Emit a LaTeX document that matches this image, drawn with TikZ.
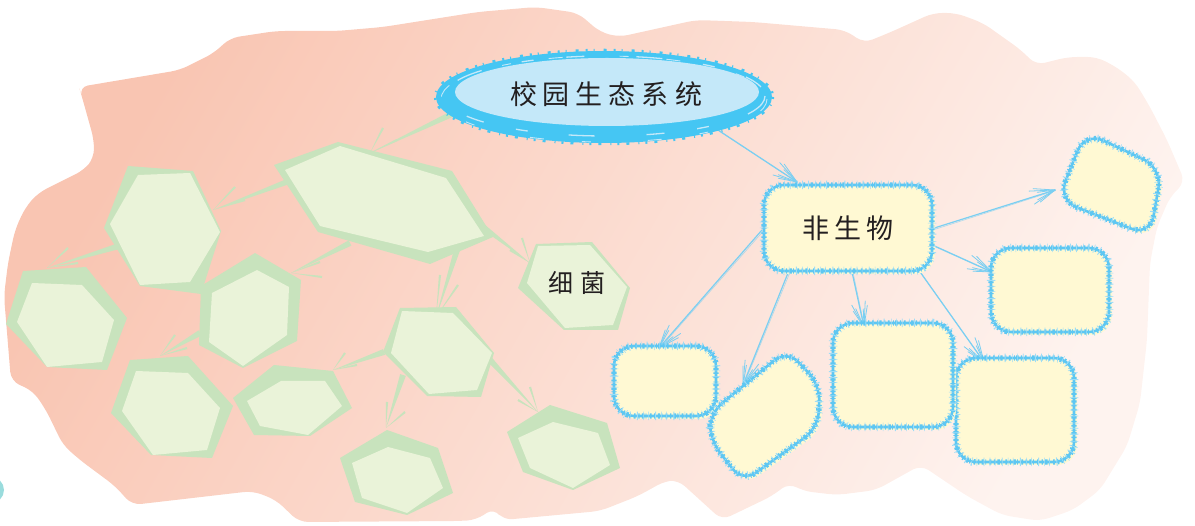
\documentclass[tikz,border=0pt]{standalone}
\usepackage{fontspec}
\newfontfamily\cjk{Noto Sans CJK SC}
\usetikzlibrary{calc}
\definecolor{blobA}{HTML}{F9C5B2}
\definecolor{blobB}{HTML}{FEF3EF}
\definecolor{hexout}{HTML}{C8E3BD}
\definecolor{hexin}{HTML}{EAF3D9}
\definecolor{ellline}{HTML}{45C6F3}
\definecolor{ellfill}{HTML}{C4E8F9}
\definecolor{boxfill}{HTML}{FFF9D3}
\definecolor{boxline}{HTML}{5EC7F2}
\definecolor{chalk}{HTML}{7ACFF2}
\definecolor{ink}{HTML}{231F20}
\definecolor{tealc}{HTML}{9ADCDD}
\tikzset{
  hexo/.style={fill=hexout},
  hexi/.style={fill=hexin},
  boxbg/.style={fill=boxfill, rounded corners=20pt},
  fuzzy/.style={draw=boxline, line width=2.6pt, rounded corners=20pt,
    postaction={draw=boxline, line width=5.4pt, dash pattern=on 1.4pt off 2.2pt on 2.4pt off 1.4pt on 0.8pt off 3.3pt on 1.8pt off 2.6pt},
    postaction={draw=boxline!60, line width=8.5pt, dash pattern=on 0.6pt off 4.5pt on 0.5pt off 6.5pt on 0.9pt off 5.2pt}},
  chalkline/.style={draw=chalk, line width=1.2pt, line cap=round},
  chalkbarb/.style={draw=chalk, line width=0.8pt, line cap=round},
  lbl/.style={font=\cjk\fontsize{27}{27}\selectfont, text=ink, inner sep=0pt},
  lblsmall/.style={font=\cjk\fontsize{25}{25}\selectfont, text=ink, inner sep=0pt}
}
\newcommand\garrow[4]{%
  \fill[hexo] ($(#1)!3pt!90:(#2)$) -- (#2) -- ($(#1)!3pt!-90:(#2)$) -- cycle;
  \fill[hexo] ($(#3)!1.1pt!90:(#2)$) -- (#2) -- ($(#3)!1.1pt!-90:(#2)$) -- cycle;
  \fill[hexo] ($(#4)!1.1pt!90:(#2)$) -- (#2) -- ($(#4)!1.1pt!-90:(#2)$) -- cycle;
}
\newcommand\chalkarrow[2]{%
  \draw[chalkline] (#1) -- (#2);
  \draw[chalkline, line width=0.6pt, opacity=0.6] ($(#1)+(1.2,1.2)$) -- ($(#2)+(0.6,0.6)$);
  \foreach \a/\l in {-21/22pt,-15/26pt,-10/18pt,12/20pt,17/25pt,22/19pt}
    \draw[chalkbarb] (#2) -- ($(#2)!\l!\a:(#1)$);
}
\newcommand\ybox[5]{%
  \fill[boxbg] (#2-#4/2+3, #3-#5/2+3) rectangle (#2+#4/2+3, #3+#5/2+3);
  \node[fuzzy, fill=boxfill, minimum width=#4pt, minimum height=#5pt, inner sep=0pt] (#1) at (#2,#3) {};
}
\begin{document}
\begin{tikzpicture}[x=1pt,y=-1pt]
\useasboundingbox (0,0) rectangle (1195,526);
% background blob
\shade[top color=blobA, bottom color=blobB, shading angle=60, rounded corners=9pt]
 (79,87) -- (180,70) -- (214,53) -- (230,38) -- (276,31) -- (337,31) -- (383,27) -- (478,12) -- (536,7) -- (578,13) -- (600,32) -- (619,37) -- (696,20) -- (753,22) -- (845,30) -- (864,43) -- (891,32) -- (933,13) -- (956,13) -- (983,23) -- (1021,50) -- (1036,65) -- (1068,57) -- (1097,57) -- (1118,68) -- (1135,82) -- (1150,107) -- (1167,140) -- (1185,182) -- (1170,197) -- (1157,227) -- (1150,263) -- (1147,340) -- (1140,403) -- (1127,446) -- (1100,490) -- (1073,510) -- (1040,521) -- (1002,515) -- (967,496) -- (921,465) -- (876,490) -- (837,495) -- (803,491) -- (789,483) -- (772,496) -- (722,520) -- (678,480) -- (665,481) -- (638,496) -- (600,511) -- (503,520) -- (494,508) -- (476,520) -- (459,521) -- (299,522) -- (276,500) -- (253,491) -- (132,505) -- (115,486) -- (80,460) -- (63,445) -- (46,410) -- (33,391) -- (11,381) -- (4,296) -- (8,263) -- (15,230) -- (25,208) -- (38,193) -- (84,170) -- (94,158) -- (94,140) -- (82,97) -- cycle;
\fill[tealc] (-9,490) circle [radius=13];

% green arrow end points
\coordinate (a0s) at (452,114); \coordinate (a0t) at (370,153); \coordinate (a0b) at (383,128); \coordinate (a0c) at (397,140);
\coordinate (a1s) at (292,180); \coordinate (a1t) at (213,210); \coordinate (a1b) at (235,187); \coordinate (a1c) at (245,200);
\coordinate (a2s) at (119,246); \coordinate (a2t) at (47,268);  \coordinate (a2b) at (68,248);  \coordinate (a2c) at (78,263);
\coordinate (a3s) at (350,243); \coordinate (a3t) at (291,273); \coordinate (a3b) at (320,262); \coordinate (a3c) at (322,277);
\coordinate (a4s) at (200,333); \coordinate (a4t) at (160,356); \coordinate (a4b) at (175,335); \coordinate (a4c) at (187,348);
\coordinate (a5s) at (457,250); \coordinate (a5t) at (436,317); \coordinate (a5b) at (440,275); \coordinate (a5c) at (458,285);
\coordinate (a6s) at (384,352); \coordinate (a6t) at (333,370); \coordinate (a6b) at (345,353); \coordinate (a6c) at (357,365);
\coordinate (a7s) at (403,375); \coordinate (a7t) at (386,428); \coordinate (a7b) at (387,402); \coordinate (a7c) at (405,412);
\coordinate (a8s) at (490,360); \coordinate (a8t) at (538,412); \coordinate (a8b) at (530,387); \coordinate (a8c) at (518,400);
\coordinate (a9s) at (477,222); \coordinate (a9t) at (530,263); \coordinate (a9b) at (522,238); \coordinate (a9c) at (510,250);
\garrow{a0s}{a0t}{a0b}{a0c}
\garrow{a1s}{a1t}{a1b}{a1c}
\garrow{a2s}{a2t}{a2b}{a2c}
\garrow{a3s}{a3t}{a3b}{a3c}
\garrow{a4s}{a4t}{a4b}{a4c}
\garrow{a5s}{a5t}{a5b}{a5c}
\garrow{a6s}{a6t}{a6b}{a6c}
\garrow{a7s}{a7t}{a7b}{a7c}
\garrow{a8s}{a8t}{a8b}{a8c}
\garrow{a9s}{a9t}{a9b}{a9c}

% hexagons
\fill[hexo] (274,165) -- (338,142) -- (452,171) -- (493,237) -- (430,264) -- (318,232) -- cycle;
\fill[hexi] (285,170) -- (340,146) -- (446,178) -- (484,236) -- (428,252) -- (320,226) -- cycle;
\fill[hexo] (128,166) -- (193,171) -- (221,231) -- (201,294) -- (140,286) -- (104,228) -- cycle;
\fill[hexi] (138,175) -- (190,173) -- (220,232) -- (190,282) -- (140,285) -- (110,224) -- cycle;
\fill[hexo] (23,271) -- (86,267) -- (127,318) -- (107,370) -- (47,367) -- (6,324) -- cycle;
\fill[hexi] (32,283) -- (82,285) -- (114,320) -- (102,362) -- (47,367) -- (17,322) -- cycle;
\fill[hexo] (201,286) -- (255,253) -- (301,280) -- (297,341) -- (243,368) -- (199,345) -- cycle;
\fill[hexi] (212,293) -- (257,270) -- (289,287) -- (287,335) -- (243,366) -- (209,342) -- cycle;
\fill[hexo] (130,360) -- (188,356) -- (233,406) -- (212,458) -- (151,455) -- (111,413) -- cycle;
\fill[hexi] (136,371) -- (188,373) -- (220,408) -- (207,450) -- (153,455) -- (122,411) -- cycle;
\fill[hexo] (233,398) -- (274,365) -- (333,371) -- (352,408) -- (310,436) -- (254,435) -- cycle;
\fill[hexi] (247,401) -- (281,381) -- (325,381) -- (342,406) -- (308,435) -- (260,426) -- cycle;
\fill[hexo] (400,308) -- (456,307) -- (494,353) -- (481,397) -- (427,396) -- (383,352) -- cycle;
\fill[hexi] (402,311) -- (453,313) -- (492,353) -- (477,390) -- (429,394) -- (391,353) -- cycle;
\fill[hexo] (340,458) -- (387,430) -- (438,448) -- (453,493) -- (407,515) -- (355,502) -- cycle;
\fill[hexi] (352,463) -- (388,447) -- (430,458) -- (443,488) -- (407,513) -- (362,498) -- cycle;
\fill[hexo] (507,432) -- (550,405) -- (607,423) -- (620,468) -- (573,490) -- (523,472) -- cycle;
\fill[hexi] (518,438) -- (553,422) -- (598,433) -- (610,465) -- (573,488) -- (530,468) -- cycle;
\fill[hexo] (518,288) -- (536,244) -- (592,242) -- (630,288) -- (618,330) -- (564,330) -- cycle;
\fill[hexi] (527,283) -- (538,246) -- (590,245) -- (627,287) -- (613,325) -- (565,328) -- cycle;
\node[lblsmall] (xijun) at (577,283) {细\kern7pt 菌};

% blue arrows
\coordinate (c0s) at (718,130);  \coordinate (c0t) at (797,182);
\coordinate (c1s) at (928,230);  \coordinate (c1t) at (1055,190);
\coordinate (c2s) at (928,243);  \coordinate (c2t) at (992,272);
\coordinate (c3s) at (913,262);  \coordinate (c3t) at (984,362);
\coordinate (c4s) at (852,272);  \coordinate (c4t) at (864,327);
\coordinate (c5s) at (788,273);  \coordinate (c5t) at (743,385);
\coordinate (c6s) at (762,230);  \coordinate (c6t) at (659,348);
\chalkarrow{c0s}{c0t}
\chalkarrow{c1s}{c1t}
\chalkarrow{c2s}{c2t}
\chalkarrow{c3s}{c3t}
\chalkarrow{c4s}{c4t}
\chalkarrow{c5s}{c5t}
\chalkarrow{c6s}{c6t}

% boxes
\ybox{n}{848}{228}{168}{86}
\node[lbl] (ntext) at (848,228) {非\kern5pt 生\kern5pt 物};
\ybox{b2}{1050}{290}{118}{84}
\ybox{b3}{1015}{410}{118}{104}
\ybox{b4}{893}{375}{120}{104}
\ybox{b5}{665}{381}{102}{70}
\fill[boxbg, shift={(3,3)}] (1085,132) -- (1162,168) -- (1150,236) -- (1058,200) -- cycle;
\draw[fuzzy, fill=boxfill] (1085,132) -- (1162,168) -- (1150,236) -- (1058,200) -- cycle;
\coordinate (b1) at (1110,185);
\fill[boxbg, rounded corners=16pt, shift={(3,3)}] (710,413) -- (787,350) -- (820,385) -- (818,428) -- (743,482) -- (710,440) -- cycle;
\draw[fuzzy, rounded corners=16pt, fill=boxfill] (710,413) -- (787,350) -- (820,385) -- (818,428) -- (743,482) -- (710,440) -- cycle;
\coordinate (b6) at (765,415);

% root ellipse (brush-like)
\fill[ellline] (604,97) ellipse [x radius=168, y radius=46];
\draw[ellline, line width=2.5pt, dash pattern=on 2pt off 6pt on 1pt off 9pt on 3pt off 7pt] (604,97) ellipse [x radius=169, y radius=47];
\fill[ellfill] (607,92) ellipse [x radius=152, y radius=34];
\draw[ellfill, line width=1.3pt, dash pattern=on 26pt off 41pt on 12pt off 33pt on 18pt off 52pt] (605,96) ellipse [x radius=160, y radius=40];
\draw[ellfill, line width=0.9pt, dash pattern=on 14pt off 57pt on 9pt off 38pt] (604,99) ellipse [x radius=163, y radius=43];
\node[lbl] (root) at (606,94) {校\kern6pt 园\kern6pt 生\kern6pt 态\kern6pt 系\kern6pt 统};
\end{tikzpicture}
\end{document}
